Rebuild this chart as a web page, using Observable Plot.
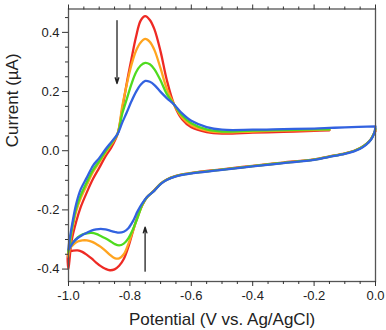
<!DOCTYPE html>
<html>
<head>
<meta charset="utf-8">
<script src="https://cdn.jsdelivr.net/npm/d3@7"></script>
<script src="https://cdn.jsdelivr.net/npm/@observablehq/plot@0.6"></script>
<style>
  html, body { margin: 0; padding: 0; background: #fff; }
  #chart { width: 386px; height: 330px; }
</style>
</head>
<body>
<div id="chart"></div>
<script>
// ---- data ----
const seriesNames = ["scan 1", "scan 2", "scan 3", "scan 4"];
const seriesColors = ["#ee2a24", "#ffa41f", "#4fdb1f", "#3262e0"];

// upper (anodic) branch, scanned from right to left
const upperV = [0.0, -0.1, -0.15, -0.2, -0.3, -0.4, -0.5, -0.55, -0.6, -0.63, -0.656, -0.68, -0.70, -0.72, -0.735, -0.75, -0.765, -0.78, -0.795, -0.81, -0.825, -0.84, -0.86, -0.88, -0.90, -0.92, -0.94, -0.96, -0.975, -0.99, -1.0];
const redUpper    = [null, null, 0.069, 0.067, 0.064, 0.061, 0.058, 0.063, 0.079, 0.106, 0.156, 0.240, 0.335, 0.410, 0.442, 0.455, 0.440, 0.385, 0.310, 0.230, 0.140, 0.057, 0.012, -0.020, -0.058, -0.095, -0.140, -0.190, -0.240, -0.305, -0.400];
const orangeUpper = [null, null, 0.071, 0.070, 0.068, 0.065, 0.062, 0.068, 0.086, 0.112, 0.156, 0.210, 0.278, 0.340, 0.368, 0.378, 0.366, 0.338, 0.290, 0.225, 0.150, 0.058, 0.022, -0.008, -0.040, -0.072, -0.115, -0.160, -0.205, -0.280, -0.360];
const greenUpper  = [null, null, 0.072, 0.072, 0.070, 0.068, 0.065, 0.072, 0.093, 0.119, 0.156, 0.192, 0.237, 0.275, 0.292, 0.297, 0.288, 0.265, 0.225, 0.175, 0.125, 0.057, 0.026, -0.003, -0.035, -0.065, -0.105, -0.150, -0.195, -0.270, -0.345];
const blueUpper   = [0.082, 0.079, 0.077, 0.075, 0.073, 0.071, 0.071, 0.080, 0.101, 0.126, 0.156, 0.178, 0.199, 0.222, 0.233, 0.236, 0.223, 0.199, 0.167, 0.130, 0.095, 0.057, 0.030, 0.004, -0.025, -0.050, -0.090, -0.130, -0.180, -0.260, -0.330];

// lower (cathodic) branch, scanned from left to right
const lowerV = [-1.0, -0.985, -0.97, -0.955, -0.94, -0.925, -0.91, -0.895, -0.88, -0.865, -0.85, -0.835, -0.82, -0.805, -0.79, -0.775, -0.76, -0.745, -0.72, -0.70, -0.68, -0.65, -0.62, -0.58, -0.5, -0.4, -0.3, -0.2, -0.15, -0.1, -0.07, -0.05, -0.03, -0.015, -0.005, 0.0];
const redLower    = [-0.345, -0.338, -0.337, -0.342, -0.352, -0.364, -0.378, -0.390, -0.399, -0.404, -0.401, -0.389, -0.366, -0.325, -0.272, -0.222, -0.185, -0.158, -0.133, -0.111, -0.097, -0.085, -0.078, -0.072, -0.063, -0.051, -0.040, -0.029, -0.019, -0.009, 0.000, 0.009, 0.023, 0.039, 0.058, 0.066];
const orangeLower = [-0.337, -0.318, -0.307, -0.303, -0.303, -0.307, -0.315, -0.325, -0.338, -0.352, -0.363, -0.364, -0.350, -0.315, -0.270, -0.225, -0.184, -0.158, -0.134, -0.112, -0.098, -0.086, -0.079, -0.073, -0.064, -0.052, -0.041, -0.030, -0.020, -0.010, -0.001, 0.008, 0.022, 0.038, 0.058, 0.070];
const greenLower  = [-0.335, -0.310, -0.293, -0.283, -0.279, -0.278, -0.281, -0.288, -0.296, -0.305, -0.315, -0.320, -0.314, -0.296, -0.265, -0.226, -0.183, -0.158, -0.134, -0.112, -0.098, -0.086, -0.079, -0.073, -0.064, -0.052, -0.041, -0.030, -0.020, -0.010, -0.001, 0.008, 0.022, 0.038, 0.058, 0.074];
const blueLower   = [-0.335, -0.310, -0.295, -0.285, -0.277, -0.270, -0.266, -0.264, -0.266, -0.270, -0.274, -0.277, -0.274, -0.262, -0.238, -0.205, -0.178, -0.157, -0.135, -0.113, -0.099, -0.087, -0.080, -0.074, -0.065, -0.053, -0.042, -0.031, -0.021, -0.011, -0.002, 0.007, 0.021, 0.037, 0.057, 0.080];

const upperCurrents = [redUpper, orangeUpper, greenUpper, blueUpper];
const lowerCurrents = [redLower, orangeLower, greenLower, blueLower];

// arrows (direction of change)
const arrowV  = [-0.842, -0.7505];
const arrowI1 = [0.440, -0.407];
const arrowI2 = [0.227, -0.258];

// ticks
const xMajor = [-1.0, -0.8, -0.6, -0.4, -0.2, 0.0];
const xMinor = [-0.95, -0.9, -0.85, -0.75, -0.7, -0.65, -0.55, -0.5, -0.45, -0.35, -0.3, -0.25, -0.15, -0.1, -0.05];
const yMajor = [-0.4, -0.2, 0.0, 0.2, 0.4];
const yMinor = [-0.35, -0.3, -0.25, -0.15, -0.1, -0.05, 0.05, 0.1, 0.15, 0.25, 0.3, 0.35, 0.45];

const xLabel = "Potential (V vs. Ag/AgCl)";
const yLabel = "Current (µA)";

// ---- build table ----
const rows = [];
seriesNames.forEach((s, k) => {
  upperV.forEach((v, i) => {
    const c = upperCurrents[k][i];
    if (c != null) rows.push({s, v, c});
  });
  lowerV.forEach((v, i) => {
    const c = lowerCurrents[k][i];
    if (c != null) rows.push({s, v, c});
  });
});
const arrows = arrowV.map((v, i) => ({v, a: arrowI1[i], b: arrowI2[i]}));

const fmt = d => d.toFixed(1);
const blank = () => "";
const font = "'Liberation Sans', Arial, sans-serif";

const chart = Plot.plot({
  width: 386,
  height: 330,
  marginLeft: 68,
  marginRight: 11,
  marginTop: 8.5,
  marginBottom: 49,
  style: {fontFamily: font, fontSize: "13px", color: "#222", background: "#fff", overflow: "visible"},
  x: {domain: [-1.0, 0.0]},
  y: {domain: [-0.442, 0.479]},
  color: {domain: seriesNames, range: seriesColors},
  marks: [
    Plot.line(rows, {x: "v", y: "c", z: "s", stroke: "s", strokeWidth: 2.3, curve: "catmull-rom", strokeLinejoin: "round"}),
    Plot.arrow(arrows, {x1: "v", y1: "a", x2: "v", y2: "b", stroke: "#222", strokeWidth: 1.3, headLength: 7, headAngle: 35}),
    Plot.frame({stroke: "#555", strokeWidth: 1.3}),
    Plot.axisX(xMajor, {anchor: "bottom", tickSize: 5, tickPadding: 4, tickFormat: fmt, fontSize: 13, stroke: "#333", fill: "#222", label: null}),
    Plot.axisX(xMinor, {anchor: "bottom", tickSize: 3, tickFormat: blank, stroke: "#333", label: null}),
    Plot.axisX(xMajor, {anchor: "top", tickSize: 5, tickFormat: blank, stroke: "#333", label: null}),
    Plot.axisX(xMinor, {anchor: "top", tickSize: 3, tickFormat: blank, stroke: "#333", label: null}),
    Plot.axisY(yMajor, {anchor: "left", tickSize: 6, tickPadding: 3, tickFormat: fmt, fontSize: 13, stroke: "#333", fill: "#222", label: null}),
    Plot.axisY(yMinor, {anchor: "left", tickSize: 3, tickFormat: blank, stroke: "#333", label: null}),
    Plot.text([xLabel], {frameAnchor: "bottom", dy: 43, text: d => d, fontSize: 17, lineAnchor: "bottom", fill: "#222"}),
    Plot.text([yLabel], {frameAnchor: "left", dx: -56, dy: 2, text: d => d, fontSize: 17, rotate: -90, lineAnchor: "middle", fill: "#222"})
  ]
});
document.getElementById("chart").appendChild(chart);
</script>
</body>
</html>
